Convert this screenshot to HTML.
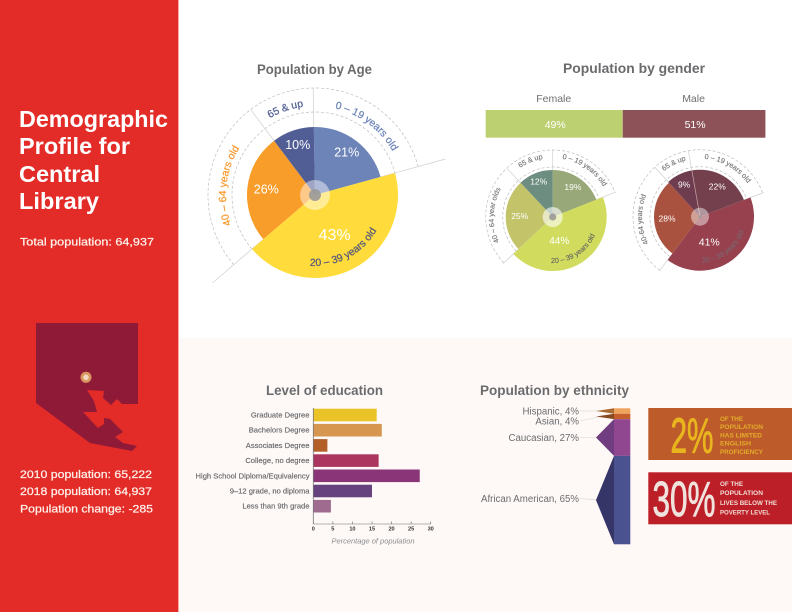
<!DOCTYPE html>
<html lang="en">
<head>
<meta charset="utf-8">
<title>Demographic Profile for Central Library</title>
<style>
html,body{margin:0;padding:0;background:#fff}
#page{position:relative;width:792px;height:612px;overflow:hidden;background:#fff}
svg{position:absolute;left:0;top:0;display:block}
text{font-family:"Liberation Sans",sans-serif}
.title{font-size:13.5px;font-weight:700;fill:#6b6b6e}
.side{font-size:11px;fill:#fdf0e8;stroke:#fdf0e8;stroke-width:.25px}
.head{font-size:23.5px;font-weight:700;fill:#fff}
.small{font-size:6px;font-weight:700}
.big{font-size:49px;font-weight:400;stroke-width:.9px}
</style>
</head>
<body>
<div id="page">
<svg id="chart" width="792" height="612" viewBox="0 0 792 612">
  <defs id="defs"></defs>
  <rect x="178" y="338" width="614" height="274" fill="#fef9f6"/>
  <rect x="0" y="0" width="178" height="612" fill="#e32b28"/>
  <rect x="178" y="0" width="1" height="612" fill="#f6a9a0"/>

  <text class="head" x="19" y="127" textLength="149" lengthAdjust="spacingAndGlyphs">Demographic</text>
  <text class="head" x="19" y="154" textLength="111" lengthAdjust="spacingAndGlyphs">Profile for</text>
  <text class="head" x="19" y="182" textLength="81" lengthAdjust="spacingAndGlyphs">Central</text>
  <text class="head" x="19" y="209" textLength="80" lengthAdjust="spacingAndGlyphs">Library</text>
  <text class="side" x="20" y="245.5" textLength="134" lengthAdjust="spacingAndGlyphs">Total population: 64,937</text>

  <polygon points="36,323 138,323 138,404 122,404 117,399 111,405 103,398 104,391 87,390 94,401 97,412 83,412 98,428 104,424 104,418 110,419 123,432 115,437 123,443 137,446 132,451 90,443 36,403" fill="#8e1a38"/>
  <circle cx="86" cy="377.3" r="5.5" fill="#d9975f"/>
  <circle cx="86" cy="377.3" r="2.8" fill="#f0d9c0"/>

  <text class="side" x="20" y="478" textLength="132" lengthAdjust="spacingAndGlyphs">2010 population: 65,222</text>
  <text class="side" x="20" y="495" textLength="132" lengthAdjust="spacingAndGlyphs">2018 population: 64,937</text>
  <text class="side" x="20" y="512.5" textLength="133" lengthAdjust="spacingAndGlyphs">Population change: -285</text>

  <text class="title" x="257" y="74" textLength="115" lengthAdjust="spacingAndGlyphs">Population by Age</text>
  <text class="title" x="563" y="73" textLength="142" lengthAdjust="spacingAndGlyphs">Population by gender</text>
  <text class="title" x="266" y="395" textLength="117" lengthAdjust="spacingAndGlyphs">Level of education</text>
  <text class="title" x="480" y="395" textLength="149" lengthAdjust="spacingAndGlyphs">Population by ethnicity</text>

  <g id="age-pie"></g>
  <g id="gender-bar"></g>
  <g id="female-pie"></g>
  <g id="male-pie"></g>
  <g id="education"></g>
  <g id="ethnicity"></g>

  <rect x="648.3" y="408" width="143.7" height="52" fill="#bd5b2a"/>
  <text class="big" x="670.5" y="452.7" fill="#e9b51f" stroke="#e9b51f" textLength="43" lengthAdjust="spacingAndGlyphs">2%</text>
  <g fill="#e3ad2a">
    <text class="small" x="720" y="421" textLength="23" lengthAdjust="spacingAndGlyphs">OF THE</text>
    <text class="small" x="720" y="429.2" textLength="43" lengthAdjust="spacingAndGlyphs">POPULATION</text>
    <text class="small" x="720" y="437.4" textLength="42" lengthAdjust="spacingAndGlyphs">HAS LIMITED</text>
    <text class="small" x="720" y="445.6" textLength="31" lengthAdjust="spacingAndGlyphs">ENGLISH</text>
    <text class="small" x="720" y="453.8" textLength="43" lengthAdjust="spacingAndGlyphs">PROFICIENCY</text>
  </g>

  <rect x="648.3" y="472.3" width="143.7" height="52" fill="#bc1f27"/>
  <text class="big" x="652.5" y="516" fill="#f0e2dd" stroke="#f0e2dd" textLength="63" lengthAdjust="spacingAndGlyphs">30%</text>
  <g fill="#f0dcd4">
    <text class="small" x="720" y="485.8" textLength="23" lengthAdjust="spacingAndGlyphs">OF THE</text>
    <text class="small" x="720" y="495.2" textLength="43" lengthAdjust="spacingAndGlyphs">POPULATION</text>
    <text class="small" x="720" y="504.8" textLength="57" lengthAdjust="spacingAndGlyphs">LIVES BELOW THE</text>
    <text class="small" x="720" y="514.4" textLength="50" lengthAdjust="spacingAndGlyphs">POVERTY LEVEL</text>
  </g>
</svg>
</div>

<script>
// ---- chart data ----
const ageLabels = ['0 – 19 years old', '20 – 39 years old', '40 – 64 years old', '65 & up'];
const ageValues = [21, 43, 26, 10];
const femaleAgeLabels = ['0 – 19 years old', '20 – 39 years old', '40 – 64 year olds', '65 & up'];
const femaleAgeValues = [19, 44, 25, 12];
const maleAgeLabels = ['0 – 19 years old', '20 – 39 years old', '40-64 years old', '65 & up'];
const maleAgeValues = [22, 41, 28, 9];
const genderLabels = ['Female', 'Male'];
const genderValues = [49, 51];
const educationLabels = ['Graduate Degree', 'Bachelors Degree', 'Associates Degree', 'College, no degree', 'High School Diploma/Equivalency', '9–12 grade, no diploma', 'Less than 9th grade'];
const educationValues = [16.2, 17.5, 3.6, 16.7, 27.2, 15, 4.5];
const educationTicks = [0, 5, 10, 15, 20, 25, 30];
const ethnicityLabels = ['Hispanic', 'Asian', 'Caucasian', 'African American'];
const ethnicityValues = [4, 4, 27, 65];

// ---- helpers ----
const NS = 'http://www.w3.org/2000/svg';
const defs = document.getElementById('defs');
let pathCount = 0;
function mk(tag, attrs, parent) {
  const el = document.createElementNS(NS, tag);
  for (const k in attrs) el.setAttribute(k, attrs[k]);
  parent.appendChild(el);
  return el;
}
function slug(s) {
  return s.toLowerCase().replace(/[^a-z0-9]+/g, '-').replace(/^-|-$/g, '');
}
function pt(cx, cy, r, a) {
  const t = a * Math.PI / 180;
  return [cx + r * Math.sin(t), cy - r * Math.cos(t)];
}
function arcD(cx, cy, r, a0, a1) {
  const p = pt(cx, cy, r, a0), q = pt(cx, cy, r, a1);
  const large = Math.abs(a1 - a0) > 180 ? 1 : 0;
  const sweep = a1 > a0 ? 1 : 0;
  return 'M' + p[0] + ' ' + p[1] + 'A' + r + ' ' + r + ' 0 ' + large + ' ' + sweep + ' ' + q[0] + ' ' + q[1];
}
function sliceD(cx, cy, r, a0, a1) {
  const p = pt(cx, cy, r, a0), q = pt(cx, cy, r, a1);
  const large = a1 - a0 > 180 ? 1 : 0;
  return 'M' + cx + ' ' + cy + 'L' + p[0] + ' ' + p[1] + 'A' + r + ' ' + r + ' 0 ' + large + ' 1 ' + q[0] + ' ' + q[1] + 'Z';
}
function curved(parent, cx, cy, r, mid, ccw, text, size, fill, strokeW) {
  const id = 'curve-' + (pathCount++);
  const a0 = ccw ? mid + 85 : mid - 85;
  const a1 = ccw ? mid - 85 : mid + 85;
  mk('path', { id: id, d: arcD(cx, cy, r, a0, a1), fill: 'none' }, defs);
  const t = mk('text', { 'font-size': size, fill: fill, stroke: fill, 'stroke-width': strokeW, 'text-anchor': 'middle' }, parent);
  
  
  const tp = mk('textPath', { href: '#' + id, startOffset: '50%' }, t);
  tp.textContent = text;
}

// ---- pies ----
function drawPie(groupId, values, labels, cfg) {
  const g = document.getElementById(groupId);
  const total = values.reduce(function (a, b) { return a + b; }, 0);
  let a = cfg.start;
  const spans = values.map(function (v) {
    const s = { a0: a, a1: a + v / total * 360 };
    a = s.a1;
    return s;
  });
  const big = spans[1];
  // dashed ring segments around the smaller slices
  [cfg.ringOuter, cfg.ringInner].forEach(function (r) {
    const ring = mk('path', { d: arcD(cfg.cx, cfg.cy, r, big.a1, big.a0 + 360), fill: 'none', stroke: '#bdbdc0', 'stroke-width': 0.7, 'stroke-dasharray': '3 2' }, g);
    
    
  });
  // separators
  spans.forEach(function (s, i) {
    const long = i === 1 || i === 2;
    const p = pt(cfg.cx, cfg.cy, cfg.radii[0] - 1, s.a0);
    const q = pt(cfg.cx, cfg.cy, long ? cfg.longSep : cfg.ringOuter, s.a0);
    const sep = mk('line', { x1: p[0], y1: p[1], x2: q[0], y2: q[1], stroke: '#cfcfd1', 'stroke-width': 0.7 }, g);
    
    
  });
  // slices (largest drawn last)
  [0, 2, 3, 1].forEach(function (i) {
    const s = spans[i];
    const path = mk('path', { d: sliceD(cfg.cx, cfg.cy, cfg.radii[i], s.a0, s.a1), fill: cfg.colors[i] }, g);
    
    
  });
  if (cfg.seam) {
    const p0 = pt(cfg.cx, cfg.cy, cfg.radii[0], spans[0].a0);
    const seam = mk('line', { x1: cfg.cx, y1: cfg.cy, x2: p0[0], y2: p0[1], stroke: '#c9a5a8', 'stroke-width': 0.7 }, g);
    
    
  }
  // hub
  const halo = mk('circle', { cx: cfg.cx, cy: cfg.cy, r: cfg.hubOuter, fill: '#fff', 'fill-opacity': cfg.hubOpacity }, g);
  
  
  const hub = mk('circle', { cx: cfg.cx, cy: cfg.cy, r: cfg.hubInner, fill: '#9a9a98', 'fill-opacity': 0.9 }, g);
  
  
  // value labels
  spans.forEach(function (s, i) {
    const mid = (s.a0 + s.a1) / 2;
    const p = pt(cfg.cx, cfg.cy, cfg.valueR[i], mid);
    const t = mk('text', { x: p[0] + (i === 1 ? cfg.bigShift : 0), y: p[1], 'text-anchor': 'middle', 'dominant-baseline': 'central', fill: '#fff', 'font-size': cfg.valueSize[i] }, g);
    
    
    t.textContent = values[i] + '%';
  });
  // curved category labels
  spans.forEach(function (s, i) {
    const mid = (s.a0 + s.a1) / 2;
    if (i === 1) curved(g, cfg.cx, cfg.cy, cfg.innerLabelR, mid, true, labels[i], cfg.labelSize, cfg.innerLabelColor, cfg.labelStroke);
    else curved(g, cfg.cx, cfg.cy, cfg.outerLabelR, mid, false, labels[i], cfg.labelSize, cfg.labelColors[i], cfg.labelStroke);
  });
}

drawPie('age-pie', ageValues, ageLabels, {
  cx: 315, cy: 195, start: -1, radii: [68, 83, 68, 68],
  colors: ['#6d84b8', '#ffdc3c', '#f99d2a', '#515e95'],
  ringOuter: 107, ringInner: 83, longSep: 135,
  hubOuter: 15, hubInner: 6, hubOpacity: 0.45,
  valueR: [53, 46, 49, 53], valueSize: [12.5, 16, 12.5, 12.5], bigShift: -2,
  outerLabelR: 89, innerLabelR: 71, labelSize: 10.4, labelStroke: 0.25,
  labelColors: ['#6d84b8', '', '#f79a2e', '#515e95'], innerLabelColor: '#56587a'
});
drawPie('female-pie', femaleAgeValues, femaleAgeLabels, {
  cx: 552.7, cy: 217, start: 0, radii: [47, 54, 47, 47],
  colors: ['#99a878', '#d1dc5f', '#c3c46a', '#6d8d80'],
  ringOuter: 67, ringInner: 50, longSep: 68,
  hubOuter: 10, hubInner: 3.6, hubOpacity: 0.6,
  valueR: [36, 29, 33, 38], valueSize: [8.5, 10, 8.5, 8.5], bigShift: -9,
  outerLabelR: 59, innerLabelR: 46, labelSize: 7.2, labelStroke: 0.15,
  labelColors: ['#777', '', '#777', '#777'], innerLabelColor: '#6a6a60'
});
drawPie('male-pie', maleAgeValues, maleAgeLabels, {
  cx: 700, cy: 216.7, start: -10, radii: [47, 54, 46, 47],
  colors: ['#74404e', '#97404e', '#a9523f', '#6e3c4f'],
  ringOuter: 67, ringInner: 50, longSep: 68,
  hubOuter: 9, hubInner: 1.5, hubOpacity: 0.45, seam: true,
  valueR: [35, 32, 33, 36], valueSize: [8.5, 10.5, 8.5, 8.5], bigShift: -10,
  outerLabelR: 58, innerLabelR: 46, labelSize: 7.2, labelStroke: 0.15,
  labelColors: ['#777', '', '#777', '#777'], innerLabelColor: '#7b666c'
});

// ---- gender bar ----
(function () {
  const g = document.getElementById('gender-bar');
  const x0 = 485.7, width = 279.7, top = 110, height = 27.7;
  const colors = ['#bdd071', '#8c5257'];
  const total = genderValues.reduce(function (a, b) { return a + b; }, 0);
  let x = x0;
  genderValues.forEach(function (v, i) {
    const w = v / total * width;
    const r = mk('rect', { x: x, y: top, width: w, height: height, fill: colors[i] }, g);
    
    
    const c = x + w / 2;
    const lab = mk('text', { x: c - 0.5, y: 102, 'text-anchor': 'middle', 'font-size': 10.5, fill: '#6f6f70' }, g);
    
    
    lab.textContent = genderLabels[i];
    const val = mk('text', { x: c + 1, y: 128, 'text-anchor': 'middle', 'font-size': 10.5, fill: '#fff' }, g);
    
    
    val.textContent = v + '%';
    x += w;
  });
})();

// ---- education bars ----
(function () {
  const g = document.getElementById('education');
  const x0 = 313.3, xScale = 3.913, yFirst = 415, yStep = 15.2, barH = 12.6, axisY = 524;
  const colors = ['#e9c327', '#d69650', '#b35f28', '#ac3560', '#8a3578', '#66437f', '#9f6b8f'];
  const X = function (v) { return x0 + v * xScale; };
  const Y = function (i) { return yFirst + i * yStep; };
  educationValues.forEach(function (v, i) {
    const r = mk('rect', { x: X(0), y: Y(i) - barH / 2, width: X(v) - X(0), height: barH, fill: colors[i] }, g);
    
    
    const t = mk('text', { x: 309.5, y: Y(i) + 2.5, 'text-anchor': 'end', 'font-size': 7.6, fill: '#68686c', stroke: '#68686c', 'stroke-width': 0.15 }, g);
    
    
    t.textContent = educationLabels[i];
  });
  const ya = mk('line', { x1: x0, y1: 408, x2: x0, y2: axisY, stroke: '#77777a', 'stroke-width': 0.8 }, g);
  
  
  const xa = mk('line', { x1: x0, y1: axisY, x2: X(educationTicks[educationTicks.length - 1]), y2: axisY, stroke: '#9a9a9c', 'stroke-width': 0.8 }, g);
  
  
  educationTicks.forEach(function (v) {
    const tick = mk('line', { x1: X(v), y1: axisY - 2.5, x2: X(v), y2: axisY, stroke: '#77777a', 'stroke-width': 0.7 }, g);
    
    
    const t = mk('text', { x: X(v), y: 530.5, 'text-anchor': 'middle', 'font-size': 5.6, 'font-weight': 700, fill: '#333' }, g);
    
    
    t.textContent = v;
  });
  const title = mk('text', { x: 373, y: 543.5, 'text-anchor': 'middle', 'font-size': 7.5, 'font-style': 'italic', fill: '#8a8a8e', textLength: 83, lengthAdjust: 'spacingAndGlyphs' }, g);
  
  
  title.textContent = 'Percentage of population';
})();

// ---- ethnicity funnel ----
(function () {
  const g = document.getElementById('ethnicity');
  const x0 = 614, barW = 16.3, top = 408.3, scale = 1.36, apexX = 596, labelX = 579;
  const colors = ['#eea45c', '#c65f2c', '#91478f', '#4a5290'];
  const darks = ['#a9682f', '#8a4a20', '#6f3d80', '#363568'];
  const labelNudge = [0, 4.5, 0, -1.5];
  let y = top;
  ethnicityValues.forEach(function (v, i) {
    const h = v * scale;
    const mid = y + h / 2;
    const ly = mid + labelNudge[i];
    const line = mk('line', { x1: labelX + 1, y1: ly, x2: apexX + 5, y2: mid, stroke: '#dcdcdc', 'stroke-width': 0.7 }, g);
    
    
    const tri = mk('polygon', { points: apexX + ',' + mid + ' ' + x0 + ',' + y + ' ' + x0 + ',' + (y + h), fill: darks[i] }, g);
    
    
    const r = mk('rect', { x: x0, y: y, width: barW, height: h, fill: colors[i] }, g);
    
    
    const t = mk('text', { x: labelX, y: ly + 3.3, 'text-anchor': 'end', 'font-size': 9.7, fill: '#6b6b70' }, g);
    
    
    t.textContent = ethnicityLabels[i] + ', ' + v + '%';
    y += h;
  });
})();
</script>
</body>
</html>
